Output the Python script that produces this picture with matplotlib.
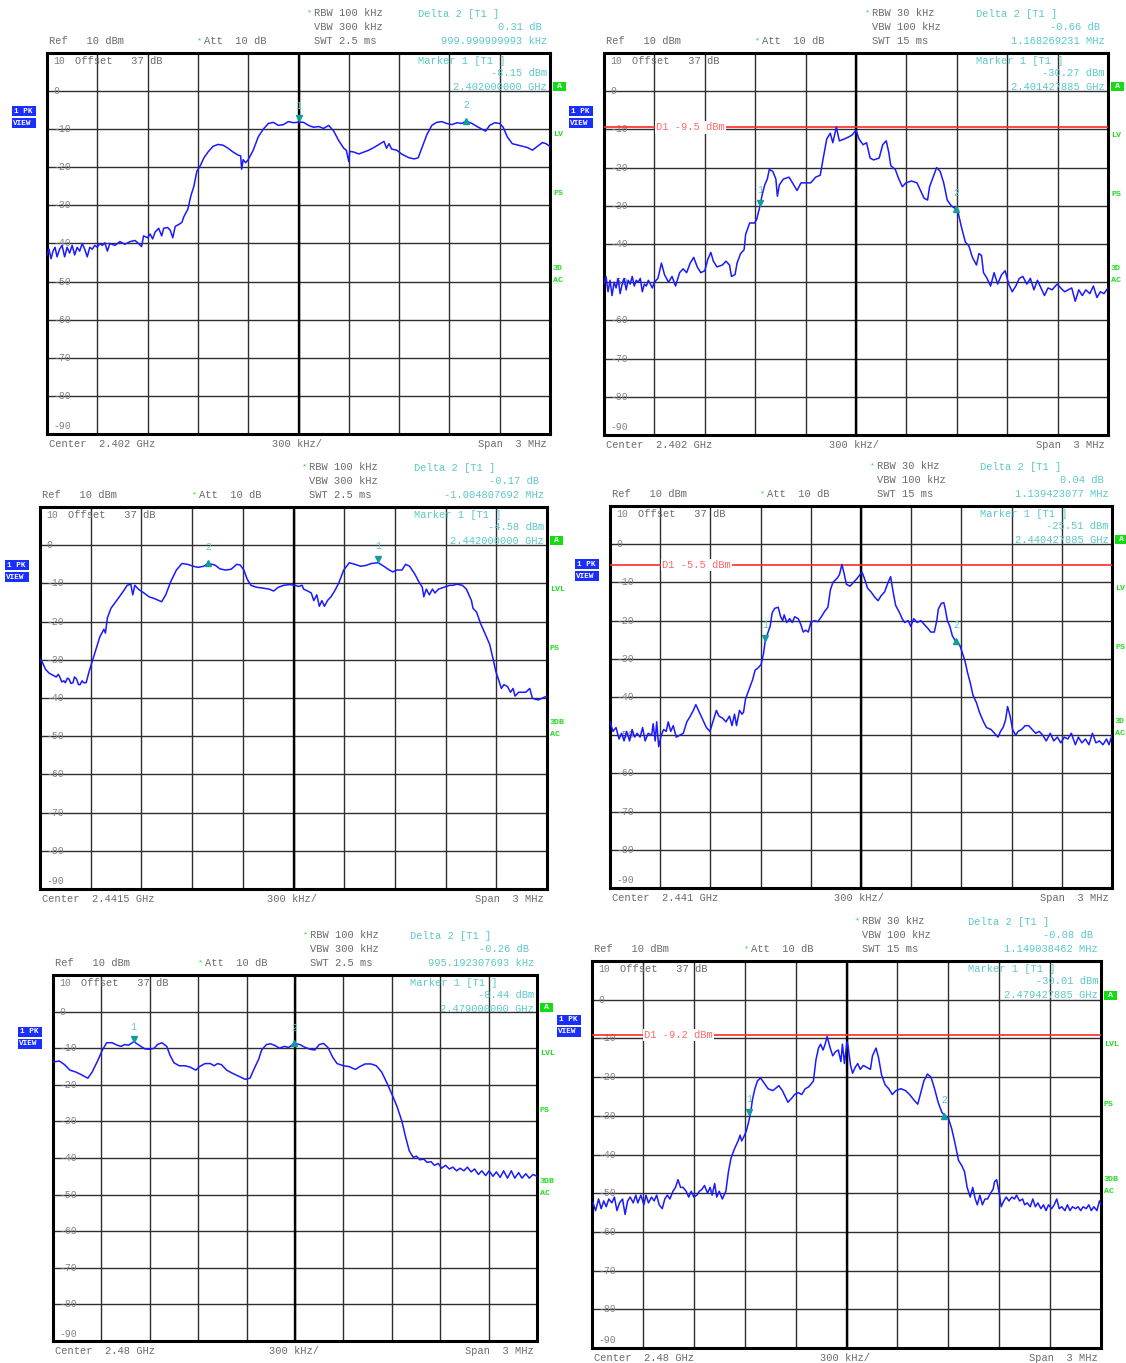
import numpy as np
import matplotlib.pyplot as plt
from matplotlib.patches import Rectangle

W, H = 1126, 1363
fig = plt.figure(figsize=(W / 100, H / 100), dpi=100)
plt.rcParams['font.family'] = ['Liberation Mono', 'DejaVu Sans Mono']

GRAY = '#6a6a6a'
CYAN = '#5cc8c8'
GREEN = '#22dd22'
BLUE = '#1a1aff'
RED = '#ff2a2a'
TEAL = '#139c9c'

# traces: (position in divisions 0..10, level dBm), 300 kHz per division
p1_trace = [(0.00, -43.0), (0.04, -41.5), (0.08, -44.0), (0.12, -42.0), (0.16, -41.0), (0.20, -43.5),
            (0.25, -41.5), (0.30, -40.5), (0.35, -43.5), (0.40, -41.0), (0.45, -42.5), (0.50, -40.5),
            (0.55, -43.0), (0.60, -41.0), (0.65, -42.0), (0.70, -40.0), (0.75, -41.5), (0.80, -43.5),
            (0.85, -41.0), (0.90, -41.5), (0.95, -40.5), (1.00, -41.0), (1.05, -40.0), (1.10, -40.5),
            (1.15, -39.8), (1.20, -42.0), (1.25, -40.0), (1.35, -40.5), (1.45, -39.5), (1.55, -40.2),
            (1.65, -39.5), (1.75, -39.2), (1.82, -40.0), (1.88, -40.8), (1.92, -38.0), (2.00, -38.5),
            (2.05, -37.5), (2.10, -38.8), (2.15, -37.0), (2.22, -36.0), (2.28, -38.0), (2.32, -36.0),
            (2.40, -35.8), (2.45, -36.5), (2.50, -38.5), (2.55, -35.5), (2.62, -35.0), (2.68, -34.5),
            (2.72, -33.0), (2.80, -31.0), (2.86, -27.5), (2.92, -25.0), (2.98, -21.0), (3.05, -19.5),
            (3.12, -17.5), (3.20, -16.0), (3.30, -14.5), (3.40, -14.0), (3.50, -14.2), (3.60, -15.0),
            (3.70, -16.0), (3.80, -16.8), (3.85, -17.0), (3.87, -20.5), (3.90, -18.0), (3.95, -18.8),
            (4.00, -18.0), (4.10, -15.5), (4.20, -12.0), (4.30, -10.0), (4.40, -8.5), (4.50, -8.2),
            (4.60, -9.0), (4.70, -8.8), (4.80, -8.0), (4.90, -8.3), (5.00, -8.15), (5.10, -8.2),
            (5.20, -9.0), (5.30, -9.5), (5.40, -9.3), (5.50, -9.8), (5.60, -9.0), (5.70, -10.5),
            (5.80, -13.0), (5.90, -15.0), (5.95, -15.5), (6.00, -18.5), (6.02, -15.8), (6.10, -16.0),
            (6.20, -16.5), (6.30, -16.0), (6.40, -15.5), (6.50, -14.8), (6.60, -14.0), (6.70, -13.2),
            (6.75, -15.0), (6.80, -13.8), (6.85, -15.2), (6.95, -15.5), (7.05, -16.5), (7.12, -17.0),
            (7.20, -17.5), (7.30, -17.8), (7.38, -17.5), (7.45, -15.0), (7.55, -11.5), (7.65, -9.0),
            (7.75, -8.2), (7.85, -8.0), (7.95, -8.5), (8.05, -8.8), (8.15, -8.3), (8.25, -8.5),
            (8.33, -7.84), (8.45, -8.5), (8.55, -9.3), (8.65, -10.0), (8.72, -10.5), (8.80, -9.0),
            (8.90, -8.3), (9.00, -8.5), (9.07, -9.5), (9.15, -12.0), (9.25, -13.8), (9.40, -14.3),
            (9.55, -14.8), (9.65, -15.5), (9.75, -14.5), (9.85, -13.5), (9.92, -13.8), (10.00, -14.5)]

p2_trace = [(0.00, -50.5), (0.04, -48.5), (0.08, -52.5), (0.12, -49.5), (0.16, -53.5), (0.20, -50.0),
            (0.24, -51.5), (0.28, -49.0), (0.32, -53.0), (0.36, -50.5), (0.40, -49.0), (0.44, -52.0),
            (0.48, -49.5), (0.52, -50.5), (0.56, -48.5), (0.60, -51.0), (0.64, -49.5), (0.68, -50.0),
            (0.72, -49.0), (0.76, -52.5), (0.80, -50.5), (0.84, -51.0), (0.88, -49.5), (0.92, -50.5),
            (0.96, -51.5), (1.00, -50.0), (1.07, -49.0), (1.14, -45.0), (1.20, -48.0), (1.28, -50.0),
            (1.35, -48.5), (1.42, -51.0), (1.50, -47.5), (1.57, -46.5), (1.64, -47.5), (1.71, -45.0),
            (1.78, -43.5), (1.85, -46.0), (1.92, -47.5), (2.00, -47.0), (2.06, -44.0), (2.12, -42.2),
            (2.17, -44.5), (2.24, -46.0), (2.35, -45.5), (2.42, -44.5), (2.49, -45.5), (2.53, -48.5),
            (2.60, -48.0), (2.64, -45.0), (2.71, -42.5), (2.78, -41.5), (2.81, -37.5), (2.89, -34.5),
            (2.99, -34.5), (3.03, -33.5), (3.09, -30.3), (3.14, -27.0), (3.19, -24.5), (3.24, -23.0),
            (3.28, -20.5), (3.35, -21.0), (3.41, -23.0), (3.44, -27.5), (3.48, -24.5), (3.56, -23.0),
            (3.67, -22.5), (3.74, -24.0), (3.83, -26.0), (3.91, -24.0), (3.99, -24.0), (4.10, -24.0),
            (4.20, -22.5), (4.29, -22.0), (4.35, -17.5), (4.42, -12.5), (4.49, -11.0), (4.54, -13.5),
            (4.61, -9.4), (4.67, -13.0), (4.77, -12.5), (4.85, -12.0), (4.92, -11.5), (4.98, -10.5),
            (5.00, -10.2), (5.06, -12.5), (5.14, -14.0), (5.21, -13.5), (5.28, -17.5), (5.35, -18.0),
            (5.46, -17.5), (5.53, -14.0), (5.60, -13.0), (5.65, -16.0), (5.69, -19.5), (5.78, -20.5),
            (5.85, -23.0), (5.92, -25.0), (5.99, -24.0), (6.10, -23.5), (6.21, -24.0), (6.28, -26.0),
            (6.35, -28.0), (6.42, -28.5), (6.46, -25.0), (6.53, -22.5), (6.60, -20.0), (6.67, -21.0),
            (6.74, -24.0), (6.81, -28.5), (6.89, -30.0), (6.99, -30.9), (7.03, -32.0), (7.10, -36.0),
            (7.17, -39.5), (7.24, -40.5), (7.31, -43.5), (7.39, -45.5), (7.44, -42.5), (7.49, -43.0),
            (7.53, -47.5), (7.60, -49.0), (7.67, -51.0), (7.74, -47.5), (7.81, -50.5), (7.89, -48.0),
            (7.96, -47.0), (8.03, -50.5), (8.10, -52.5), (8.17, -51.0), (8.24, -49.0), (8.31, -48.5),
            (8.39, -50.5), (8.46, -49.0), (8.53, -52.0), (8.60, -49.5), (8.67, -51.5), (8.74, -53.5),
            (8.81, -51.5), (8.89, -52.0), (8.99, -50.5), (9.06, -51.5), (9.14, -52.5), (9.21, -52.0),
            (9.28, -51.5), (9.35, -55.0), (9.42, -52.0), (9.49, -53.5), (9.56, -52.0), (9.64, -53.0),
            (9.71, -51.0), (9.78, -54.0), (9.85, -52.5), (9.92, -53.0), (10.00, -51.5)]

p3_trace = [(0.00, -30.0), (0.04, -30.5), (0.11, -32.5), (0.18, -33.5), (0.25, -34.0), (0.32, -34.5),
            (0.36, -33.8), (0.39, -34.5), (0.43, -35.8), (0.47, -35.5), (0.50, -36.0), (0.54, -34.8),
            (0.57, -35.0), (0.61, -36.2), (0.65, -36.0), (0.68, -34.5), (0.72, -35.0), (0.76, -36.5),
            (0.79, -36.5), (0.83, -35.5), (0.86, -36.0), (0.91, -36.0), (0.97, -33.0), (1.04, -30.0),
            (1.11, -27.0), (1.18, -24.0), (1.26, -22.0), (1.29, -23.0), (1.33, -19.0), (1.40, -16.5),
            (1.51, -14.5), (1.62, -12.5), (1.72, -10.5), (1.79, -10.2), (1.83, -13.0), (1.87, -10.5),
            (1.94, -11.5), (2.05, -12.5), (2.15, -13.5), (2.26, -14.0), (2.40, -14.8), (2.48, -13.0),
            (2.58, -9.5), (2.69, -6.5), (2.80, -4.8), (2.91, -5.0), (3.02, -5.5), (3.12, -5.8),
            (3.23, -5.5), (3.32, -4.75), (3.45, -5.2), (3.55, -6.2), (3.66, -6.5), (3.77, -6.3),
            (3.88, -5.0), (3.95, -5.2), (4.02, -6.5), (4.09, -9.0), (4.16, -10.5), (4.27, -11.0),
            (4.38, -11.2), (4.52, -11.5), (4.61, -12.0), (4.70, -11.0), (4.81, -10.5), (4.92, -10.3),
            (5.03, -10.5), (5.10, -10.8), (5.17, -10.5), (5.20, -11.5), (5.28, -12.0), (5.35, -12.5),
            (5.40, -14.5), (5.46, -13.0), (5.51, -16.0), (5.56, -14.5), (5.61, -16.0), (5.67, -14.5),
            (5.74, -13.5), (5.81, -12.0), (5.89, -10.0), (5.99, -6.5), (6.10, -4.6), (6.21, -5.0),
            (6.32, -5.5), (6.43, -5.3), (6.53, -4.8), (6.67, -4.58), (6.78, -5.5), (6.89, -6.5),
            (6.96, -7.0), (7.03, -6.5), (7.14, -6.5), (7.21, -5.0), (7.29, -5.5), (7.39, -7.5),
            (7.47, -9.5), (7.54, -11.0), (7.57, -13.5), (7.62, -11.5), (7.68, -13.0), (7.74, -11.5),
            (7.79, -12.5), (7.86, -11.5), (7.97, -11.0), (8.08, -10.5), (8.15, -10.5), (8.22, -10.2),
            (8.33, -10.5), (8.41, -11.5), (8.51, -14.5), (8.54, -16.5), (8.61, -17.5), (8.69, -20.5),
            (8.79, -23.5), (8.87, -26.0), (8.94, -30.0), (8.99, -33.0), (9.05, -35.5), (9.10, -37.5),
            (9.15, -36.5), (9.22, -37.0), (9.28, -38.5), (9.33, -37.5), (9.37, -39.5), (9.44, -38.5),
            (9.51, -38.5), (9.58, -38.5), (9.66, -37.5), (9.71, -40.0), (9.76, -40.3), (9.83, -40.5),
            (9.91, -40.0), (10.00, -39.5)]

p4_trace = [(0.00, -46.5), (0.06, -49.0), (0.12, -48.0), (0.18, -51.0), (0.23, -49.5), (0.28, -51.5),
            (0.33, -49.0), (0.39, -51.5), (0.44, -48.5), (0.49, -50.5), (0.54, -49.5), (0.60, -50.5),
            (0.65, -48.0), (0.70, -51.5), (0.76, -49.5), (0.83, -50.0), (0.86, -47.0), (0.90, -51.5),
            (0.93, -46.5), (0.97, -53.0), (1.02, -50.0), (1.07, -48.5), (1.12, -49.0), (1.16, -46.5),
            (1.21, -49.0), (1.26, -47.5), (1.32, -50.5), (1.39, -50.0), (1.46, -49.5), (1.53, -46.5),
            (1.60, -45.0), (1.66, -43.5), (1.71, -42.0), (1.78, -44.0), (1.85, -46.0), (1.92, -48.0),
            (1.99, -49.0), (2.06, -46.0), (2.12, -43.5), (2.17, -45.0), (2.24, -45.5), (2.31, -46.5),
            (2.38, -45.0), (2.43, -47.5), (2.48, -44.5), (2.52, -47.5), (2.58, -43.5), (2.63, -44.5),
            (2.66, -44.0), (2.70, -40.5), (2.77, -38.0), (2.84, -35.5), (2.89, -33.0), (2.94, -32.5),
            (3.01, -31.5), (3.06, -28.5), (3.09, -25.5), (3.15, -23.0), (3.19, -21.5), (3.23, -18.0),
            (3.28, -16.8), (3.35, -16.5), (3.40, -19.0), (3.44, -20.0), (3.47, -18.5), (3.52, -20.5),
            (3.58, -19.5), (3.63, -20.5), (3.68, -19.0), (3.75, -19.5), (3.80, -21.0), (3.85, -23.0),
            (3.90, -22.5), (3.95, -23.0), (4.00, -20.5), (4.07, -20.0), (4.14, -20.3), (4.21, -19.0),
            (4.28, -17.5), (4.34, -16.5), (4.39, -12.0), (4.44, -10.0), (4.48, -9.5), (4.53, -8.8),
            (4.57, -8.0), (4.62, -5.3), (4.66, -7.5), (4.71, -10.5), (4.78, -11.0), (4.85, -10.0),
            (4.92, -9.0), (4.98, -8.0), (5.02, -7.3), (5.07, -9.0), (5.13, -11.5), (5.20, -12.5),
            (5.27, -13.8), (5.34, -14.8), (5.40, -13.5), (5.47, -12.5), (5.54, -10.0), (5.59, -8.5),
            (5.64, -12.5), (5.69, -16.0), (5.77, -18.0), (5.82, -19.5), (5.87, -20.5), (5.94, -20.0),
            (5.99, -21.5), (6.05, -19.5), (6.12, -20.5), (6.19, -20.0), (6.26, -21.0), (6.33, -22.0),
            (6.39, -23.0), (6.46, -23.0), (6.51, -20.0), (6.54, -17.0), (6.60, -15.5), (6.65, -15.3),
            (6.68, -17.0), (6.72, -20.0), (6.77, -21.5), (6.82, -24.0), (6.89, -25.5), (6.97, -26.5),
            (7.02, -28.5), (7.07, -30.5), (7.12, -33.5), (7.18, -36.5), (7.23, -39.5), (7.30, -41.5),
            (7.36, -44.0), (7.44, -46.5), (7.50, -48.0), (7.59, -48.5), (7.66, -49.5), (7.73, -50.5),
            (7.78, -49.0), (7.83, -48.0), (7.88, -46.0), (7.92, -42.5), (7.97, -45.0), (8.02, -48.5),
            (8.08, -50.0), (8.13, -49.0), (8.20, -48.5), (8.27, -47.5), (8.34, -47.5), (8.41, -48.5),
            (8.48, -49.5), (8.55, -49.0), (8.62, -50.0), (8.69, -51.5), (8.77, -49.5), (8.84, -51.5),
            (8.91, -50.5), (8.98, -52.0), (9.05, -50.5), (9.12, -51.0), (9.19, -49.5), (9.27, -52.5),
            (9.33, -50.5), (9.40, -52.0), (9.47, -51.0), (9.54, -52.5), (9.61, -49.5), (9.68, -52.0),
            (9.75, -51.5), (9.82, -52.5), (9.89, -51.0), (9.94, -52.5), (10.00, -50.0)]

p5_trace = [(0.00, -13.8), (0.13, -13.5), (0.24, -14.5), (0.35, -16.0), (0.47, -16.5), (0.58, -17.2),
            (0.72, -18.2), (0.81, -16.5), (0.92, -13.5), (1.02, -10.5), (1.11, -8.5), (1.22, -8.5),
            (1.33, -9.2), (1.41, -9.5), (1.48, -9.0), (1.56, -9.2), (1.67, -8.2), (1.78, -9.2),
            (1.90, -10.2), (2.01, -10.3), (2.09, -10.0), (2.16, -9.0), (2.25, -8.5), (2.35, -9.5),
            (2.42, -12.0), (2.50, -14.0), (2.61, -14.8), (2.73, -14.8), (2.84, -15.2), (2.95, -16.0),
            (3.03, -15.0), (3.14, -14.2), (3.25, -14.2), (3.33, -14.8), (3.40, -14.2), (3.48, -14.5),
            (3.59, -16.0), (3.70, -16.8), (3.86, -17.8), (3.97, -18.5), (4.07, -18.2), (4.16, -15.5),
            (4.25, -13.0), (4.31, -10.5), (4.41, -9.0), (4.50, -8.8), (4.59, -9.3), (4.68, -10.0),
            (4.78, -9.5), (4.87, -9.8), (4.98, -8.7), (5.10, -9.0), (5.21, -9.8), (5.32, -10.3),
            (5.41, -10.5), (5.50, -9.0), (5.59, -8.7), (5.68, -9.8), (5.78, -12.5), (5.87, -14.2),
            (6.00, -14.8), (6.11, -15.0), (6.25, -15.8), (6.34, -15.0), (6.45, -14.3), (6.57, -14.3),
            (6.68, -14.8), (6.79, -16.5), (6.90, -19.5), (7.00, -22.5), (7.11, -26.0), (7.21, -30.0),
            (7.28, -34.0), (7.36, -38.0), (7.44, -39.8), (7.51, -39.5), (7.58, -40.5), (7.66, -40.3),
            (7.73, -41.2), (7.81, -41.0), (7.88, -42.0), (7.96, -41.5), (8.03, -42.8), (8.11, -42.0),
            (8.19, -43.0), (8.26, -42.5), (8.34, -43.5), (8.41, -42.8), (8.49, -43.5), (8.56, -42.5),
            (8.64, -43.8), (8.71, -43.0), (8.79, -44.5), (8.86, -43.5), (8.94, -44.8), (9.01, -43.5),
            (9.09, -45.0), (9.16, -43.8), (9.24, -45.3), (9.31, -43.5), (9.39, -45.5), (9.47, -43.5),
            (9.54, -45.5), (9.62, -44.0), (9.69, -45.5), (9.77, -44.3), (9.84, -45.5), (9.92, -44.5),
            (10.00, -45.0)]

p6_trace = [(0.02, -52.5), (0.07, -54.5), (0.13, -51.5), (0.18, -54.0), (0.23, -52.0), (0.28, -53.5),
            (0.33, -51.5), (0.39, -52.5), (0.44, -51.0), (0.49, -54.5), (0.54, -52.5), (0.60, -51.5),
            (0.65, -55.5), (0.70, -52.0), (0.75, -51.0), (0.81, -52.5), (0.86, -50.5), (0.90, -52.5),
            (0.96, -50.5), (1.02, -53.0), (1.06, -50.5), (1.11, -52.5), (1.17, -51.0), (1.22, -52.0),
            (1.27, -50.5), (1.32, -53.0), (1.38, -54.0), (1.43, -51.5), (1.48, -50.5), (1.53, -51.5),
            (1.59, -49.5), (1.64, -48.5), (1.69, -46.5), (1.74, -48.5), (1.79, -48.5), (1.85, -49.5),
            (1.90, -51.0), (1.95, -49.5), (2.00, -51.0), (2.06, -50.5), (2.11, -49.5), (2.16, -49.0),
            (2.21, -48.0), (2.27, -50.0), (2.32, -48.5), (2.36, -50.5), (2.41, -47.5), (2.45, -51.0),
            (2.50, -49.5), (2.56, -51.5), (2.63, -49.5), (2.68, -44.5), (2.73, -41.0), (2.80, -38.5),
            (2.87, -36.5), (2.91, -35.0), (2.94, -36.5), (2.98, -35.5), (3.03, -34.0), (3.07, -32.0),
            (3.12, -29.0), (3.15, -26.0), (3.20, -23.0), (3.25, -21.0), (3.31, -20.2), (3.38, -21.5),
            (3.46, -23.0), (3.55, -23.5), (3.60, -23.0), (3.67, -22.2), (3.74, -23.5), (3.85, -26.5),
            (3.92, -25.5), (3.98, -24.5), (4.05, -24.0), (4.12, -24.5), (4.19, -23.0), (4.26, -22.5),
            (4.35, -21.0), (4.40, -15.5), (4.45, -12.5), (4.49, -11.5), (4.54, -13.0), (4.58, -11.5),
            (4.62, -9.5), (4.68, -12.5), (4.73, -14.5), (4.78, -13.5), (4.84, -13.0), (4.89, -16.0),
            (4.92, -11.5), (4.96, -16.5), (5.01, -10.8), (5.03, -12.0), (5.08, -17.0), (5.12, -19.0),
            (5.17, -17.5), (5.22, -16.5), (5.27, -18.0), (5.33, -17.0), (5.40, -17.5), (5.47, -18.0),
            (5.51, -14.5), (5.58, -12.5), (5.63, -15.0), (5.69, -19.5), (5.76, -22.0), (5.83, -23.0),
            (5.90, -24.5), (5.97, -23.5), (6.07, -23.0), (6.16, -23.5), (6.24, -24.5), (6.33, -26.0),
            (6.40, -27.0), (6.45, -24.5), (6.52, -21.0), (6.59, -19.2), (6.66, -20.0), (6.73, -23.0),
            (6.80, -26.5), (6.87, -29.0), (6.93, -30.0), (7.00, -30.5), (7.07, -33.5), (7.13, -37.0),
            (7.20, -41.5), (7.27, -43.0), (7.32, -44.5), (7.37, -48.5), (7.43, -51.0), (7.48, -48.5),
            (7.53, -51.5), (7.57, -53.0), (7.62, -50.5), (7.67, -53.0), (7.72, -51.5), (7.77, -51.5),
            (7.83, -50.0), (7.88, -49.0), (7.91, -47.0), (7.95, -46.5), (8.00, -50.0), (8.04, -53.5),
            (8.09, -52.0), (8.14, -51.0), (8.19, -52.0), (8.25, -51.0), (8.30, -51.5), (8.34, -50.5),
            (8.40, -52.0), (8.46, -51.5), (8.50, -53.0), (8.55, -52.5), (8.61, -53.5), (8.66, -51.5),
            (8.71, -53.5), (8.76, -52.5), (8.82, -54.0), (8.87, -53.0), (8.92, -54.5), (8.97, -53.0),
            (9.03, -54.0), (9.08, -53.0), (9.13, -51.5), (9.18, -54.0), (9.23, -53.5), (9.29, -54.5),
            (9.34, -53.0), (9.39, -54.5), (9.44, -53.5), (9.50, -54.0), (9.55, -53.5), (9.60, -54.5),
            (9.65, -53.5), (9.71, -54.0), (9.76, -53.0), (9.81, -54.5), (9.86, -53.5), (9.92, -54.5),
            (9.97, -52.0), (10.00, -53.0)]

traces = [p1_trace, p2_trace, p3_trace, p4_trace, p5_trace, p6_trace]

# analyzer settings / readouts
centers = [2402.0, 2402.0, 2441.5, 2441.0, 2480.0, 2480.0]          # MHz
center_txt = ['2.402 GHz', '2.402 GHz', '2.4415 GHz', '2.441 GHz', '2.48 GHz', '2.48 GHz']
rbw_txt = ['100 kHz', '30 kHz', '100 kHz', '30 kHz', '100 kHz', '30 kHz']
vbw_txt = ['300 kHz', '100 kHz', '300 kHz', '100 kHz', '300 kHz', '100 kHz']
swt_txt = ['2.5 ms', '15 ms', '2.5 ms', '15 ms', '2.5 ms', '15 ms']
delta_db = [0.31, -0.66, -0.17, 0.04, -0.26, -0.08]
delta_f = [1.0, 1.168269231, -1.004807692, 1.139423077, 0.995192308, 1.149038462]   # MHz
delta_f_txt = ['999.999999993 kHz', '1.168269231 MHz', '-1.004807692 MHz',
               '1.139423077 MHz', '995.192307693 kHz', '1.149038462 MHz']
m1_level = [-8.15, -30.27, -4.58, -25.51, -8.44, -30.01]
m1_freq = [2402.0, 2401.427885, 2442.0, 2440.427885, 2479.0, 2479.427885]    # MHz
m1_freq_txt = ['2.402000000 GHz', '2.401427885 GHz', '2.442000000 GHz',
               '2.440427885 GHz', '2.479000000 GHz', '2.479427885 GHz']
d1_level = [None, -9.5, None, -5.5, None, -9.2]
# side labels, as far as they show in each screenshot
side_txt = [['LV', 'PS', '3D', 'AC'], ['LV', 'PS', '3D', 'AC'], ['LVL', 'PS', '3DB', 'AC'],
            ['LV', 'PS', '3D', 'AC'], ['LVL', 'PS', '3DB', 'AC'], ['LVL', 'PS', '3DB', 'AC']]
side_lvl = [-11.5, -27.0, -46.5, -49.6]
db_labels = [0, -10, -20, -30, -40, -50, -60, -70, -80]

# screen boxes in pixels: left, top, right, bottom
boxes = [(47, 53, 550, 434), (604, 53, 1108, 435), (40, 507, 547, 889),
         (610, 506, 1112, 888), (53, 975, 537, 1341), (592, 961, 1101, 1348)]


def ftext(x, y, s, **kw):
    kw.setdefault('fontsize', 7.5)
    kw.setdefault('va', 'center')
    kw.setdefault('color', GRAY)
    fig.text(x / W, 1 - y / H, s, **kw)


def frect(x0, y0, x1, y1, color):
    fig.patches.append(Rectangle((x0 / W, 1 - y1 / H), (x1 - x0) / W, (y1 - y0) / H,
                                 transform=fig.transFigure, fc=color, ec='none', zorder=5))


for i in range(6):
    l, t, r, b = boxes[i]
    w = r - l
    c = centers[i]

    def ypx(db):
        return t + (10 - db) / 100 * (b - t)

    ax = fig.add_axes([l / W, 1 - b / H, w / W, (b - t) / H])
    ax.set_xlim(c - 1.5, c + 1.5)
    ax.set_ylim(-90, 10)
    ax.set_xticks(c + 0.3 * np.arange(-4, 5))
    ax.set_yticks(db_labels)
    ax.tick_params(length=0, labelbottom=False, labelleft=False)
    ax.grid(True, color='#2e2e2e', lw=1.0)
    ax.axvline(c, color='k', lw=1.7)
    for s in ax.spines.values():
        s.set_linewidth(2.2)

    div, lvl = np.array(traces[i]).T
    ax.plot(c + (div - 5) * 0.3, lvl, color=BLUE, lw=1.1, zorder=4)

    # level scale written inside the screen
    yt = ax.get_yaxis_transform()
    lab = dict(transform=yt, fontsize=7, color='#808080', va='center')
    ax.text(6 / w, 7.9, '10', **lab)
    ax.text(6 / w, -88, '-90', **lab)
    for d in db_labels:
        ax.text(6 / w, d, str(d), **lab)
    ax.text(28 / w, 7.9, 'Offset   37 dB', transform=yt, fontsize=7.5, color=GRAY, va='center')

    # display line
    if d1_level[i] is not None:
        ax.axhline(d1_level[i], color=RED, lw=1.2, zorder=3)
        ax.text(52 / w, d1_level[i], 'D1 %s dBm' % d1_level[i], transform=yt, fontsize=7.5,
                color='#ff6a6a', va='center', zorder=4,
                bbox=dict(fc='white', ec='none', pad=0.8))

    # markers
    m2f = m1_freq[i] + delta_f[i]
    m2l = m1_level[i] + delta_db[i]
    ax.plot(m1_freq[i], m1_level[i] + 1.0, marker='v', color=TEAL, ms=5, ls='none', zorder=5)
    ax.plot(m2f, m2l, marker='^', color=TEAL, ms=5, ls='none', zorder=5)
    ax.text(m1_freq[i], m1_level[i] + 4.3, '1', color=CYAN, fontsize=7, ha='center', va='center')
    ax.text(m2f, m2l + 4.3, '2', color=CYAN, fontsize=7, ha='center', va='center')

    # header
    xa = l + 0.303 * w
    xr = l + 0.521 * w
    xd = l + 0.738 * w
    ftext(l + 2, t - 12, 'Ref   10 dBm')
    ftext(xa - 2, t - 12, '*', color=GREEN, fontsize=6)
    ftext(xa + 5, t - 12, 'Att  10 dB')
    ftext(xr - 2, t - 40, '*', color=GREEN, fontsize=6)
    ftext(xr + 5, t - 40, 'RBW ' + rbw_txt[i])
    ftext(xr + 5, t - 26, 'VBW ' + vbw_txt[i])
    ftext(xr + 5, t - 12, 'SWT ' + swt_txt[i])
    ftext(xd, t - 39, 'Delta 2 [T1 ]', color=CYAN)
    ftext(r - 8, t - 26, '%.2f dB' % delta_db[i], color=CYAN, ha='right')
    ftext(r - 3, t - 12, delta_f_txt[i], color=CYAN, ha='right')
    ftext(xd, t + 8, 'Marker 1 [T1 ]', color=CYAN)
    ftext(r - 3, t + 20, '%.2f dBm' % m1_level[i], color=CYAN, ha='right')
    ftext(r - 3, t + 34, m1_freq_txt[i], color=CYAN, ha='right')

    # footer
    ftext(l + 2, b + 10, 'Center  ' + center_txt[i])
    ftext(l + 0.447 * w, b + 10, '300 kHz/')
    ftext(r - 3, b + 10, 'Span  3 MHz', ha='right')

    # side annotations
    y0 = ypx(0)
    frect(r + 3, y0 - 9, r + 16, y0, '#11dd11')
    ftext(r + 9.5, y0 - 4.5, 'A', color='white', fontsize=6, ha='center', weight='bold', zorder=6)
    for s, d in zip(side_txt[i], side_lvl):
        ftext(r + 3, ypx(d), s, color=GREEN, fontsize=6, weight='bold')
    frect(l - 35, y0 + 15, l - 11, y0 + 25, '#1a2eff')
    frect(l - 35, y0 + 27, l - 11, y0 + 37, '#1a2eff')
    ftext(l - 33, y0 + 20, '1 PK', color='white', fontsize=5.5, weight='bold', zorder=6)
    ftext(l - 34, y0 + 32, 'VIEW', color='white', fontsize=5.5, weight='bold', zorder=6)

fig.savefig('out.png', dpi=100)
